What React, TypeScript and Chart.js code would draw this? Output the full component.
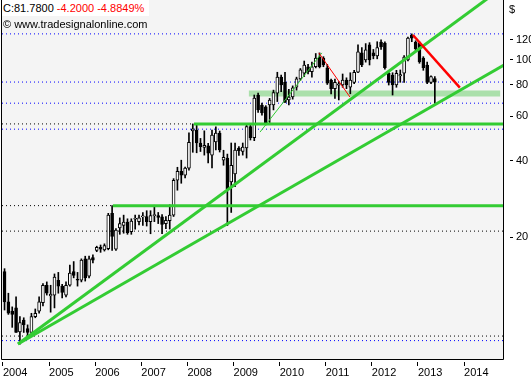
import React, { useEffect, useRef } from 'react';
import { Chart, registerables } from 'chart.js';

Chart.register(...registerables);

// Monthly candles from Jan 2004 (x = months since Jan 2004)
const OPEN = [
  14.6, 11.1, 10.2, 10.5, 8.45, 9.4, 8.7, 8.4, 9.7, 10.2, 11.0, 12.9,
  11.7, 11.8, 13.5, 12.8, 11.8, 12.9, 14.6, 13.6, 13.5, 16.4, 14.0, 16.6,
  17.7, 18.2, 17.8, 18.0, 24.8, 17.9, 21.7, 22.2, 22.9, 21.0, 23.5, 23.0,
  24.0, 24.1, 23.0, 24.3, 24.3, 24.0, 22.6, 23.2, 24.4, 33.5, 36.3, 35.1,
  37.4, 52.5, 52.9, 47.0, 45.1, 45.8, 42.1, 47.5, 51.4, 40.2, 41.0, 33.0,
  35.5, 44.9, 43.5, 44.9, 54.6, 49.3, 72.7, 66.4, 65.3, 66.4, 66.4, 74.0,
  85.5, 81.6, 69.5, 71.4, 78.1, 84.2, 88.6, 94.0, 89.8, 94.0, 102.7, 101.7,
  93.1, 83.3, 77.0, 79.5, 79.6, 83.3, 78.1, 81.6, 89.4, 106.6, 100.0, 114.6,
  106.6, 103.6, 117.7, 116.6, 88.6, 87.2, 79.6, 86.5, 88.6, 100.0, 125.4, 117.7,
  116.6, 101.7, 95.5, 81.6, 84.5,
];
const HIGH = [
  15.0, 12.0, 10.6, 11.6, 9.7, 9.6, 9.0, 10.0, 10.4, 11.6, 13.1, 13.3,
  12.9, 14.3, 14.5, 13.0, 13.3, 15.5, 16.0, 14.5, 16.4, 16.8, 16.8, 17.0,
  18.4, 18.6, 18.8, 24.8, 26.6, 21.6, 23.8, 24.4, 23.6, 23.6, 24.4, 24.4,
  25.0, 25.4, 25.4, 26.7, 25.0, 24.5, 24.1, 26.8, 34.0, 37.7, 40.2, 37.8,
  51.5, 55.9, 55.9, 49.0, 52.5, 46.9, 52.9, 54.4, 52.4, 44.0, 42.5, 47.0,
  47.0, 45.5, 47.0, 55.4, 56.0, 72.7, 74.0, 67.5, 66.0, 70.5, 76.0, 89.4,
  87.2, 89.4, 76.5, 79.0, 85.5, 92.5, 99.0, 96.0, 98.0, 106.0, 106.6, 103.0,
  96.0, 84.0, 84.0, 82.0, 88.0, 85.0, 89.0, 91.0, 114.6, 112.0, 116.0, 117.0,
  110.0, 118.0, 120.0, 118.0, 90.5, 89.0, 91.0, 91.3, 104.0, 123.0, 126.7, 119.0,
  117.7, 103.0, 98.0, 86.5, 86.0,
];
const LOW = [
  10.3, 9.9, 8.8, 8.4, 7.56, 8.4, 8.1, 8.3, 9.6, 10.0, 10.7, 11.8,
  10.1, 10.5, 12.0, 11.5, 11.6, 12.8, 13.8, 12.8, 13.3, 13.4, 13.8, 15.8,
  17.5, 17.4, 17.6, 17.8, 17.7, 17.7, 20.5, 20.7, 20.5, 20.5, 21.5, 22.3,
  22.2, 22.1, 20.6, 23.0, 22.6, 20.6, 21.6, 21.5, 24.1, 30.6, 32.6, 34.2,
  36.7, 43.2, 43.0, 43.5, 42.1, 39.2, 37.5, 44.1, 43.3, 38.4, 22.2, 25.0,
  31.6, 42.0, 42.1, 41.0, 48.3, 48.0, 62.0, 60.5, 55.4, 56.6, 63.5, 68.5,
  75.0, 68.0, 66.4, 70.0, 76.0, 83.0, 86.0, 88.0, 85.5, 93.0, 93.0, 94.0,
  80.0, 73.5, 70.5, 69.5, 78.0, 77.0, 73.5, 80.5, 89.0, 94.0, 98.0, 95.5,
  101.0, 101.0, 110.0, 92.0, 79.6, 72.7, 78.0, 81.6, 81.6, 99.0, 118.0, 108.0,
  97.0, 91.0, 80.5, 80.5, 67.5,
];
const CLOSE = [
  11.1, 10.0, 9.9, 8.4, 9.2, 9.0, 8.4, 9.7, 10.0, 11.1, 12.9, 12.0,
  11.9, 13.9, 12.8, 12.1, 12.9, 14.4, 14.1, 13.5, 16.2, 13.8, 16.4, 16.2,
  18.2, 17.9, 18.5, 24.4, 20.1, 21.3, 22.6, 22.9, 20.8, 23.1, 23.7, 23.8,
  24.1, 23.0, 24.3, 24.3, 23.9, 22.4, 23.3, 24.4, 33.5, 36.3, 35.1, 37.4,
  47.3, 53.5, 47.0, 45.5, 46.0, 42.9, 50.5, 51.4, 44.1, 41.3, 31.0, 38.4,
  44.1, 43.8, 45.3, 54.6, 49.3, 70.7, 63.5, 61.8, 56.6, 69.5, 74.4, 85.5,
  79.6, 68.0, 71.4, 77.6, 84.2, 91.3, 95.5, 89.8, 94.0, 101.7, 94.0, 95.5,
  81.0, 77.0, 81.6, 80.5, 83.3, 79.6, 83.3, 89.4, 107.6, 95.5, 109.5, 100.0,
  103.6, 112.0, 112.6, 93.1, 81.6, 79.6, 88.6, 87.5, 102.7, 121.9, 121.9, 110.5,
  98.2, 93.1, 81.6, 85.98, 81.78,
];
const FIRST_X = 0.4;

const YEAR_LABELS = ['2004', '2005', '2006', '2007', '2008', '2009', '2010', '2011', '2012', '2013', '2014'];
const YEAR_TICKS = [0, 12, 24, 36, 48, 60, 72, 84, 96, 108, 120];
const PRICE_TICKS = [20, 40, 60, 80, 100, 120];
const X_MIN = -0.26;
const X_MAX = 130.4;
const Y_MIN = 6.6;
const Y_MAX = 172.4;

// Drawn trend lines [x, price]
const GREEN_STEEP = [[3.9, 7.56], [130.4, 195]];
const GREEN_FLAT = [[3.9, 7.56], [130.4, 95.5]];
const GREEN_THIN = [[66.9, 51.9], [83.0, 106.6]];
const RED_THIN = [[82.2, 106.6], [90.3, 71.4]];
const RED_THICK = [[106.7, 125.4], [118.9, 77.7]];
const GREEN_H_LOW = [[28.6, 26.6], [130.4, 26.6]];
const GREEN_H_HIGH = [[49.7, 55.9], [130.4, 55.9]];
const BAND = [[64.0, 73.7], [129.4, 73.7]];
const BLUE_LEVELS = [126.7, 81.78, 67.5, 53.3, 7.8];
const BLACK_LEVELS = [55.9, 26.6, 21.1, 8.13];

const FONT = '"Liberation Sans", Arial, sans-serif';

const pts = (arr: number[][]) => arr.map(([x, y]) => ({ x, y }));

const framePlugin = {
  id: 'frame',
  beforeDraw(chart: any) {
    const { ctx, chartArea: a, width, height } = chart;
    ctx.save();
    ctx.fillStyle = '#ffffff';
    ctx.fillRect(0, 0, width, height);
    ctx.fillStyle = '#f4f4f4';
    ctx.fillRect(a.left, a.top, a.right - a.left, a.bottom - a.top);
    ctx.restore();
  },
  afterDraw(chart: any) {
    const { ctx, chartArea: a } = chart;
    ctx.save();
    ctx.strokeStyle = '#000';
    ctx.lineWidth = 1;
    ctx.beginPath();
    ctx.moveTo(a.left - 0.5, a.top);
    ctx.lineTo(a.left - 0.5, a.bottom + 0.5);
    ctx.lineTo(a.right - 0.5, a.bottom + 0.5);
    ctx.lineTo(a.right - 0.5, a.top);
    ctx.stroke();
    ctx.restore();
  },
};

function lineDs(data: number[][], color: string, width: number, order: number, dash: number[] = []) {
  return {
    type: 'line' as const,
    data: pts(data),
    borderColor: color,
    borderWidth: width,
    borderDash: dash,
    pointRadius: 0,
    tension: 0,
    fill: false,
    clip: 0,
    order,
  };
}

function zeroPad(s: any) {
  s.paddingTop = 0;
  s.paddingBottom = 0;
  s.paddingLeft = 0;
  s.paddingRight = 0;
}

export default function App() {
  const ref = useRef<HTMLCanvasElement | null>(null);

  useEffect(() => {
    if (!ref.current) return;
    const xs = OPEN.map((_, i) => FIRST_X + i);
    const up = OPEN.map((o, i) => CLOSE[i] >= o);
    const wicks = xs.map((x, i) => ({ x, y: [LOW[i], HIGH[i]] }));
    const bodies = xs.map((x, i) => ({ x, y: [Math.min(OPEN[i], CLOSE[i]), Math.max(OPEN[i], CLOSE[i])] }));

    const datasets: any[] = [];
    BLUE_LEVELS.forEach((v) => datasets.push(lineDs([[X_MIN, v], [X_MAX, v]], '#0000ff', 1, 20, [1, 3])));
    BLACK_LEVELS.forEach((v) => datasets.push(lineDs([[X_MIN, v], [X_MAX, v]], '#000000', 1, 20, [1, 3])));
    datasets.push(lineDs(BAND, 'rgba(140, 215, 140, 0.7)', 6, 15));
    datasets.push({
      type: 'bar', data: wicks, backgroundColor: '#000', borderWidth: 0,
      barThickness: 1, grouped: false, order: 10,
    });
    datasets.push({
      type: 'bar', data: bodies,
      backgroundColor: up.map((u) => (u ? '#ffffff' : '#000000')),
      borderColor: '#000', borderWidth: 1, borderSkipped: false,
      barThickness: 3, minBarLength: 1, grouped: false, order: 9,
    });
    datasets.push(lineDs(GREEN_H_LOW, '#33cc33', 3, 5));
    datasets.push(lineDs(GREEN_H_HIGH, '#33cc33', 3, 5));
    datasets.push(lineDs(GREEN_STEEP, '#33cc33', 3, 4));
    datasets.push(lineDs(GREEN_FLAT, '#33cc33', 3, 4));
    datasets.push(lineDs(GREEN_THIN, '#33cc33', 1, 3));
    datasets.push(lineDs(RED_THIN, '#ff0000', 1, 2));
    datasets.push(lineDs(RED_THICK, '#ff0000', 2.5, 1));

    const chart = new Chart(ref.current, {
      type: 'bar',
      data: { datasets },
      options: {
        responsive: false,
        animation: false,
        devicePixelRatio: 1,
        events: [],
        layout: { padding: { left: 2, top: 0, right: 0, bottom: 0 } },
        plugins: { legend: { display: false }, tooltip: { enabled: false } },
        scales: {
          x: {
            type: 'linear',
            offset: false,
            bounds: 'data',
            min: X_MIN,
            max: X_MAX,
            afterBuildTicks: (s: any) => {
              s.ticks = YEAR_TICKS.map((v) => ({ value: v }));
            },
            afterFit: (s: any) => {
              s.height = 21;
              zeroPad(s);
            },
            grid: {
              offset: false,
              drawOnChartArea: false,
              drawTicks: true,
              tickLength: 7,
              tickColor: '#000',
              tickBorderDash: [0, 3, 4, 0],
            },
            border: { display: false },
            ticks: {
              autoSkip: false,
              maxRotation: 0,
              align: 'start',
              padding: 0,
              color: '#000',
              font: { family: FONT, size: 11 },
              callback: (_v: any, i: number) => YEAR_LABELS[i],
            },
          },
          y: {
            type: 'logarithmic',
            position: 'right',
            min: Y_MIN,
            max: Y_MAX,
            afterBuildTicks: (s: any) => {
              s.ticks = PRICE_TICKS.map((v) => ({ value: v }));
            },
            afterFit: (s: any) => {
              s.width = 27;
              zeroPad(s);
            },
            grid: {
              drawOnChartArea: false,
              drawTicks: true,
              tickLength: 9,
              tickColor: '#000',
              tickBorderDash: [0, 6, 3, 0],
            },
            border: { display: false },
            ticks: {
              autoSkip: false,
              padding: 3,
              color: '#000',
              font: { family: FONT, size: 11 },
              callback: (v: any) => String(v),
            },
          },
        },
      } as any,
      plugins: [framePlugin],
    });
    return () => chart.destroy();
  }, []);

  return (
    <div style={{ position: 'fixed', left: 0, top: 0, width: 531, height: 380, background: '#fff', overflow: 'hidden' }}>
      <canvas ref={ref} width={531} height={380} style={{ position: 'absolute', left: 0, top: 0 }} />
      <div
        style={{
          position: 'absolute', left: 2, top: 0, width: 146, height: 16, background: '#fff',
          font: `11px ${FONT}`, lineHeight: '16px', paddingLeft: 1, whiteSpace: 'nowrap',
        }}
      >
        <span style={{ color: '#000' }}>C:81.7800</span>{' '}
        <span style={{ color: '#ff0000' }}>-4.2000 -4.8849%</span>
      </div>
      <div
        style={{
          position: 'absolute', left: 3, top: 16, font: `11px ${FONT}`, lineHeight: '16px',
          color: '#000', whiteSpace: 'nowrap',
        }}
      >
        © www.tradesignalonline.com
      </div>
      <div style={{ position: 'absolute', left: 509, top: 2, font: `11px ${FONT}`, lineHeight: '14px', color: '#000' }}>
        $
      </div>
    </div>
  );
}
